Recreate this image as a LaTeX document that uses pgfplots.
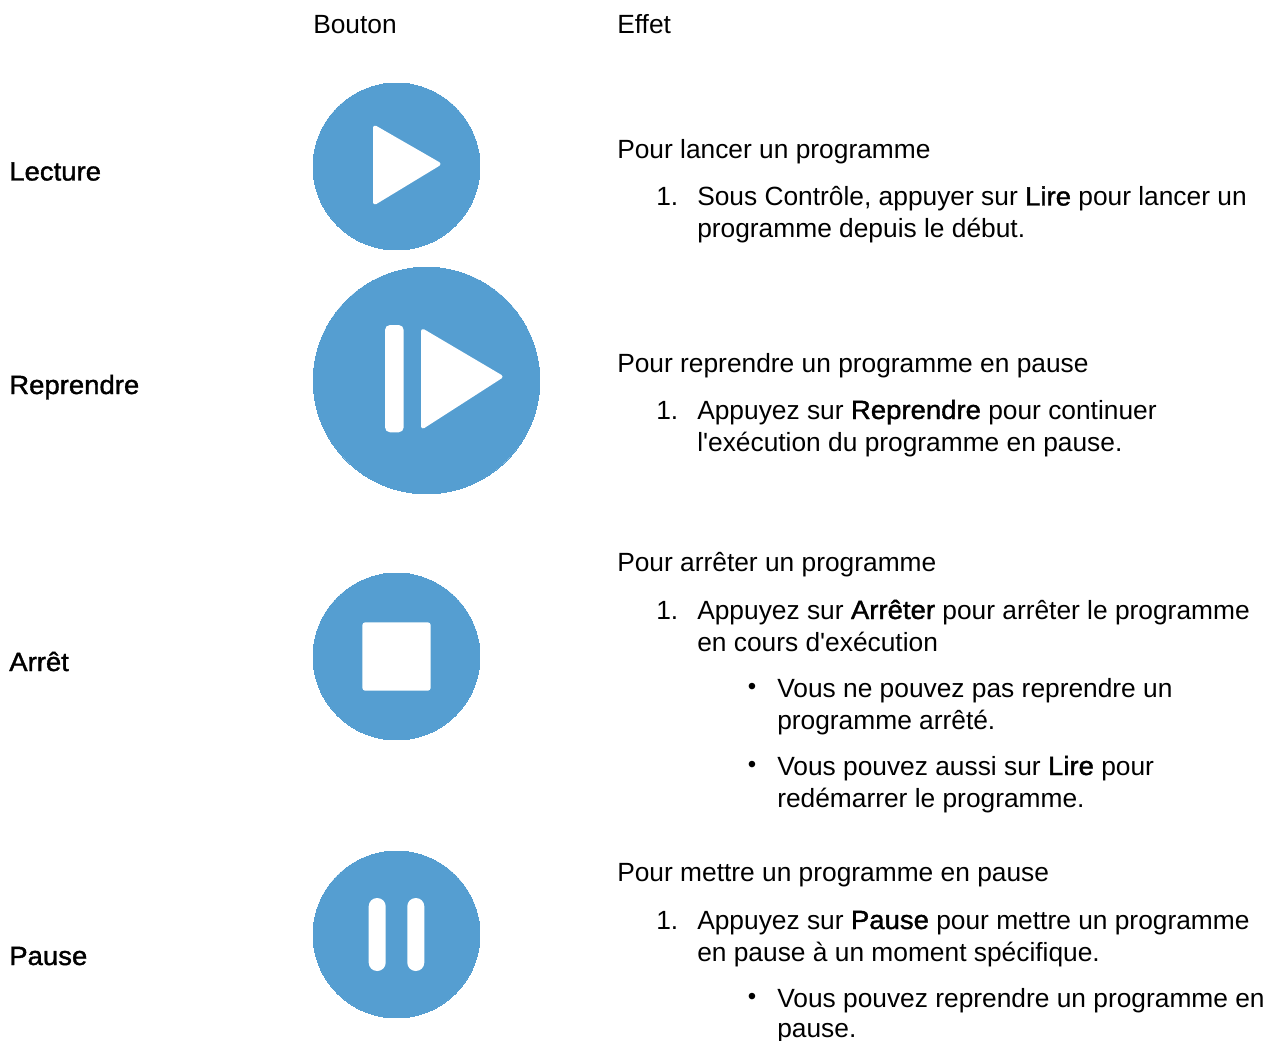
\documentclass[border=0pt]{standalone}
\usepackage{pgfplots}
\pgfplotsset{compat=1.18}
\usepackage{fontspec}
\setmainfont{Liberation Sans}
\newfontface\fb[FakeBold=1.4,FakeStretch=1.045]{Liberation Sans}
\definecolor{btn}{HTML}{559ED1}
\newcommand{\T}[3]{\node[anchor=base west,inner sep=0pt] at (axis cs:#1,#2) {#3};}
\newcommand{\B}[1]{{\fb #1}}
\newcommand{\Bul}[2]{\node[anchor=base west,inner sep=0pt] at (axis cs:#1,#2) {\fontsize{18}{20}\selectfont •};}
\pgfplotsset{page/.style={at={(0,0)},anchor=south west,scale only axis,width=957.75pt,height=780.75pt,
  xmin=0,xmax=1277,ymin=0,ymax=1041,y dir=reverse,hide axis,clip=false}}
\begin{document}
\begin{tikzpicture}
\path[use as bounding box] (0,0) rectangle (957.75pt,780.75pt);
\begin{axis}[page]
\addplot[only marks,mark=*,mark size=62.6pt,mark options={fill=btn,draw=btn,line width=0pt}] coordinates {(396.5,166.5)(396.5,656.5)(396.5,934.5)};
\addplot[only marks,mark=*,mark size=85pt,mark options={fill=btn,draw=btn,line width=0pt}] coordinates {(426.5,380.5)};
\end{axis}
\begin{axis}[page]
\addplot[fill=white,draw=white,line width=3pt,line join=round] coordinates {(375,127.5)(438.5,164)(375,202.5)} --cycle;
\addplot[fill=white,draw=white,line width=3pt,line join=round] coordinates {(423,331)(500.5,376.7)(423,426.5)} --cycle;
\addplot[fill=white,draw=none,rounded corners=3.75pt] coordinates {(385,325)(403.7,325)(403.7,432.3)(385,432.3)} --cycle;
\addplot[fill=white,draw=none,rounded corners=2.2pt] coordinates {(362.3,622.3)(430.7,622.3)(430.7,690.7)(362.3,690.7)} --cycle;
\addplot[fill=white,draw=none,rounded corners=6.3pt] coordinates {(368.7,898)(385.7,898)(385.7,971)(368.7,971)} --cycle;
\addplot[fill=white,draw=none,rounded corners=6.3pt] coordinates {(407.3,898)(424.3,898)(424.3,971)(407.3,971)} --cycle;
\fontsize{19.75}{24}\selectfont
\T{313}{33.5}{Bouton}
\T{617}{33.5}{Effet}
\T{9}{180.5}{\B{Lecture}}
\T{9}{394}{\B{Reprendre}}
\T{9}{671}{\B{Arrêt}}
\T{9}{965}{\B{Pause}}
\T{617}{158.5}{Pour lancer un programme}
\T{656}{205.5}{1.}
\T{697}{205.5}{Sous Contrôle, appuyer sur \B{Lire} pour lancer un}
\T{697}{237.5}{programme depuis le début.}
\T{617}{372}{Pour reprendre un programme en pause}
\T{656}{419}{1.}
\T{697}{419}{Appuyez sur \B{Reprendre} pour continuer}
\T{697}{451}{l\textquotesingle exécution du programme en pause.}
\T{617}{571}{Pour arrêter un programme}
\T{656}{619}{1.}
\T{697}{619}{Appuyez sur \B{Arrêter} pour arrêter le programme}
\T{697}{651}{en cours d\textquotesingle exécution}
\Bul{747.5}{694}
\T{777}{697}{Vous ne pouvez pas reprendre un}
\T{777}{729}{programme arrêté.}
\Bul{747.5}{772}
\T{777}{775}{Vous pouvez aussi sur \B{Lire} pour}
\T{777}{807}{redémarrer le programme.}
\T{617}{881}{Pour mettre un programme en pause}
\T{656}{929}{1.}
\T{697}{929}{Appuyez sur \B{Pause} pour mettre un programme}
\T{697}{961}{en pause à un moment spécifique.}
\Bul{747.5}{1004}
\T{777}{1007}{Vous pouvez reprendre un programme en}
\T{777}{1037}{pause.}
\end{axis}
\end{tikzpicture}
\end{document}
